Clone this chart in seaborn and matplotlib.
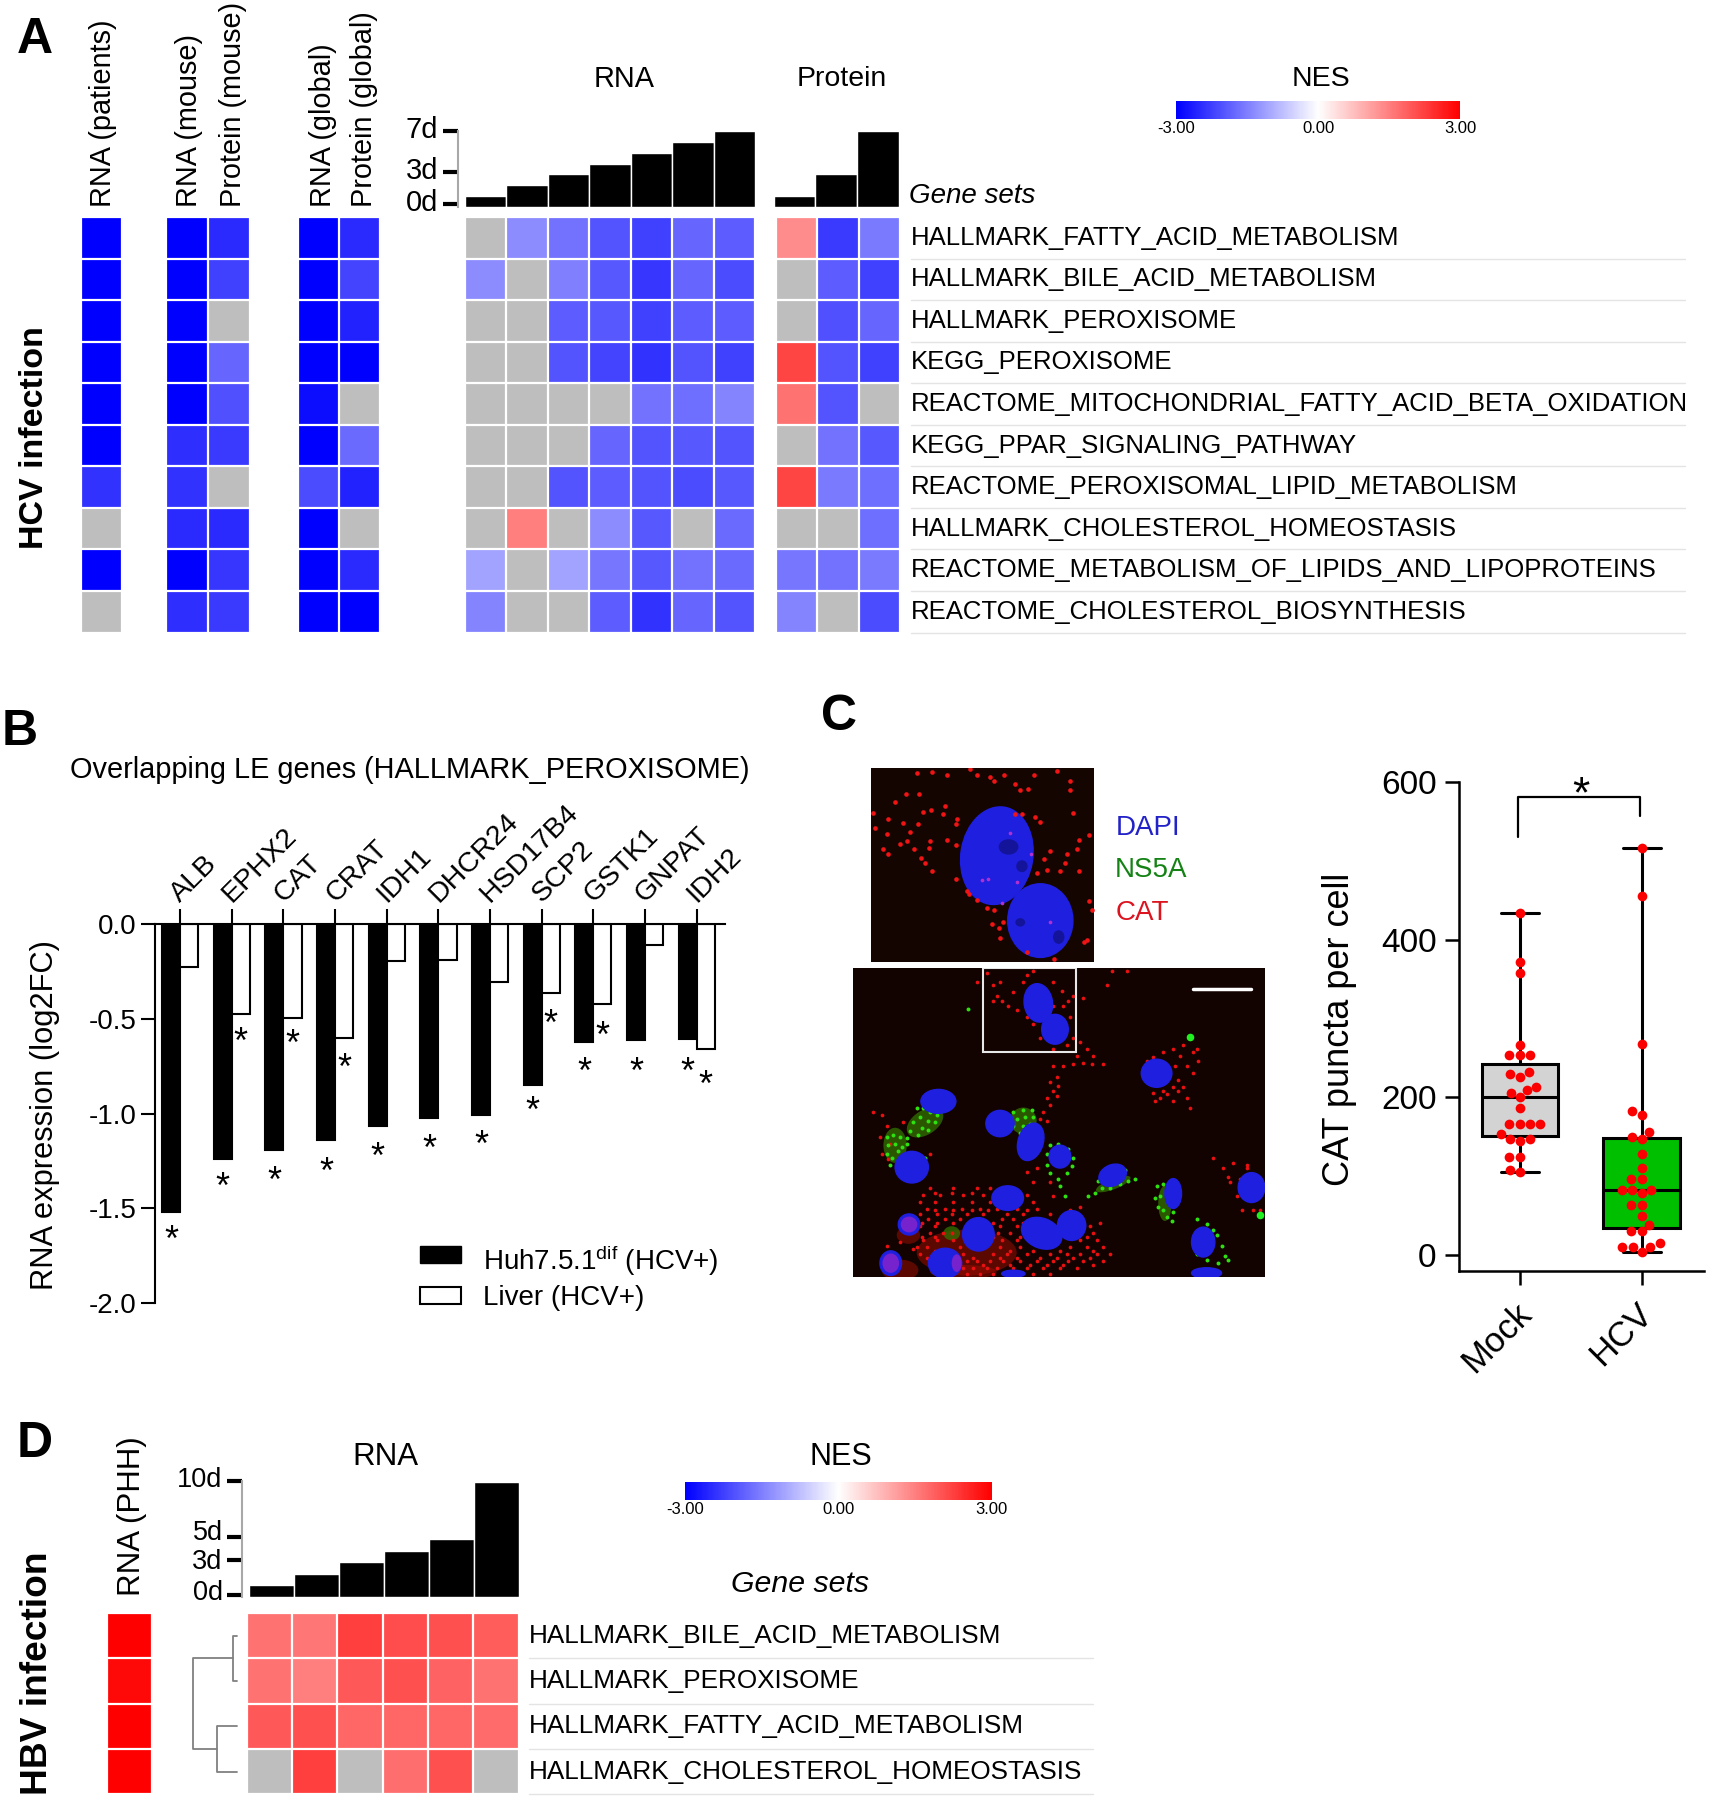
import numpy as np
import pandas as pd
import matplotlib
matplotlib.use('Agg')
import matplotlib.pyplot as plt
import seaborn as sns
from matplotlib.lines import Line2D
from matplotlib.patches import Ellipse, Rectangle
from matplotlib.transforms import ScaledTranslation

n = np.nan

# panel A
gene_sets_a = ['HALLMARK_FATTY_ACID_METABOLISM', 'HALLMARK_BILE_ACID_METABOLISM', 'HALLMARK_PEROXISOME',
               'KEGG_PEROXISOME', 'REACTOME_MITOCHONDRIAL_FATTY_ACID_BETA_OXIDATION', 'KEGG_PPAR_SIGNALING_PATHWAY',
               'REACTOME_PEROXISOMAL_LIPID_METABOLISM', 'HALLMARK_CHOLESTEROL_HOMEOSTASIS',
               'REACTOME_METABOLISM_OF_LIPIDS_AND_LIPOPROTEINS', 'REACTOME_CHOLESTEROL_BIOSYNTHESIS']
patients = [[-3], [-3], [-3], [-3], [-3], [-3], [-2.4], [n], [-3], [n]]
mouse = [[-3, -2.5], [-3, -2.25], [-3, n], [-3, -1.8], [-3, -2.05],
         [-2.45, -2.3], [-2.4, n], [-2.5, -2.5], [-3, -2.35], [-2.45, -2.3]]
global_ = [[-3, -2.5], [-3, -2.2], [-3, -2.6], [-3, -3], [-2.85, n],
           [-3, -1.75], [-2.1, -2.6], [-3, n], [-3, -2.5], [-3, -3]]
rna_a = [[n, -1.35, -1.65, -2.0, -2.25, -1.8, -1.9],
         [-1.35, n, -1.5, -1.95, -2.35, -1.8, -2.1],
         [n, n, -1.9, -1.95, -2.25, -1.9, -1.9],
         [n, n, -2.0, -2.2, -2.4, -2.0, -2.25],
         [n, n, n, n, -1.65, -1.7, -1.45],
         [n, n, n, -1.8, -2.0, -1.95, -2.0],
         [n, n, -2.0, -1.9, -2.0, -2.1, -1.95],
         [n, 1.5, n, -1.35, -1.95, n, -1.75],
         [-1.1, n, -1.1, -1.6, -1.95, -1.65, -1.75],
         [-1.45, n, n, -1.9, -2.4, -1.8, -2.0]]
protein_a = [[1.35, -2.3, -1.55], [n, -1.9, -2.25], [n, -2.05, -1.8], [2.2, -2.0, -2.25], [1.65, -2.0, n],
             [n, -1.65, -1.95], [2.2, -1.55, -1.7], [n, n, -1.7], [-1.6, -1.65, -1.55], [-1.45, n, -2.1]]
days_rna_a = [1, 2, 3, 4, 5, 6, 7]
days_protein_a = [1, 3, 7]

# panel B
genes = ['ALB', 'EPHX2', 'CAT', 'CRAT', 'IDH1', 'DHCR24', 'HSD17B4', 'SCP2', 'GSTK1', 'GNPAT', 'IDH2']
huh = [-1.522, -1.24, -1.19, -1.14, -1.065, -1.026, -1.01, -0.85, -0.62, -0.61, -0.606]
liver = [-0.226, -0.473, -0.497, -0.60, -0.194, -0.19, -0.305, -0.366, -0.424, -0.108, -0.658]
star_huh = [-1.634, -1.355, -1.323, -1.273, -1.194, -1.155, -1.131, -0.953, -0.748, -0.748, -0.748]
star_liver = {1: -0.587, 2: -0.602, 3: -0.727, 7: -0.495, 8: -0.555, 10: -0.817}

# panel C
mock = [105, 108, 124, 124, 145, 147, 147, 154, 166, 166, 166, 166, 186, 200, 206, 209, 213,
        226, 230, 232, 253, 253, 253, 266, 357, 372, 433]
hcv = [4, 10, 10, 10, 15, 30, 30, 38, 49, 63, 63, 78, 82, 82, 82, 97, 97, 110, 128, 147, 150,
       156, 178, 183, 268, 455, 516]

# micrograph, hand placed in crop pixels: x, y, w, h, angle
nuclei_top = [(530, 330, 215, 280, 10), (660, 515, 195, 210, 0)]
holes_top = [(565, 305, 55, 40, 0), (605, 360, 30, 30, 0), (715, 562, 30, 35, 0), (600, 520, 25, 20, 0)]
puncta_top = [(205, 225), (200, 268), (165, 252), (190, 312), (205, 325), (258, 155), (298, 155), (225, 177), (160, 208),
              (250, 237), (295, 240), (270, 263), (240, 297), (260, 288), (283, 312), (330, 287), (328, 307), (303, 338),
              (315, 350), (335, 373), (380, 285), (408, 240), (410, 225), (375, 188), (368, 210), (308, 205), (332, 200),
              (408, 300), (408, 397), (380, 100), (335, 92), (290, 95), (450, 82), (470, 100), (510, 105), (520, 118),
              (550, 100), (585, 125), (600, 143), (622, 140), (640, 100), (710, 90), (748, 118), (748, 143), (758, 207),
              (805, 272), (770, 310), (740, 325), (690, 318), (670, 340), (735, 352), (720, 375), (650, 380), (775, 375),
              (660, 235), (645, 220), (605, 210), (585, 210), (440, 430), (470, 455), (448, 440), (500, 480), (520, 485),
              (515, 525), (535, 535), (548, 520), (540, 565), (620, 605), (800, 570), (790, 575), (805, 460), (815, 485),
              (700, 625), (775, 285), (680, 370)]
magenta_top = [(505, 397), (485, 400), (590, 405), (570, 265), (632, 325), (545, 465), (688, 520)]
nuclei_low = [(655, 750, 85, 110, -10), (705, 825, 80, 85, 0), (1010, 950, 92, 80, 0), (355, 1030, 105, 68, 0),
              (540, 1093, 85, 75, 0), (632, 1145, 75, 110, 20), (720, 1187, 65, 65, 0), (275, 1217, 100, 90, 0),
              (878, 1240, 85, 60, -20), (1060, 1292, 50, 85, 0), (1295, 1275, 80, 85, 0), (563, 1305, 95, 70, 0),
              (665, 1405, 125, 85, 20), (755, 1383, 85, 85, 0), (475, 1408, 95, 95, 0), (267, 1380, 65, 60, 0),
              (1150, 1430, 70, 85, 0), (375, 1490, 100, 85, 0), (212, 1490, 65, 70, 0), (580, 1520, 70, 20, 0),
              (1160, 1518, 90, 30, 0)]
pink_low = [(267, 1380, 50, 45), (212, 1490, 50, 55), (410, 1490, 30, 50)]
green_haze = [(315, 1090, 120, 70, -30), (610, 1085, 80, 75, 0), (225, 1155, 70, 100, 0), (1035, 1320, 40, 100, 0),
              (880, 1265, 110, 30, -20), (395, 1405, 50, 40, 0)]
red_haze = [(440, 1460, 300, 130, 0), (430, 1515, 200, 40, 0), (265, 1410, 70, 50, 0), (240, 1510, 110, 60, 0)]
red_low = [(520, 700), (540, 690), (530, 730), (545, 745), (565, 760), (590, 770), (520, 745), (580, 720), (610, 690),
           (620, 670), (640, 660), (700, 690), (725, 715), (745, 745), (730, 760), (700, 760), (760, 730), (620, 790),
           (640, 810), (660, 850), (760, 850), (740, 870), (700, 880), (750, 790), (725, 850), (470, 690), (500, 665),
           (860, 700), (875, 660), (920, 660), (790, 735), (780, 860), (800, 880), (770, 900), (820, 900), (790, 920),
           (815, 925), (850, 925), (760, 925), (730, 930), (700, 930), (710, 960), (690, 975), (715, 985), (700, 1000),
           (680, 1020), (710, 1015), (690, 1040), (670, 1060), (680, 1085), (660, 1080), (1090, 870), (1060, 880),
           (1030, 890), (1080, 900), (1120, 890), (1135, 915), (1100, 930), (1120, 950), (1000, 905), (980, 915),
           (1065, 930), (1075, 970), (1060, 990), (1075, 1000), (1000, 1005), (1020, 1020), (1040, 1010), (1060, 1030),
           (1100, 1020), (1110, 1050), (1005, 1030), (1090, 990), (1130, 880), (1030, 1000), (1180, 1190), (1210, 1220),
           (1240, 1205), (1280, 1210), (1230, 1260), (1260, 1250), (1250, 1300), (1265, 1340), (1320, 1340), (1300, 1340),
           (1225, 1245), (1280, 1220), (620, 1230), (650, 1220), (640, 1260), (690, 1260), (700, 1300), (750, 1340),
           (780, 1330), (160, 1060), (185, 1070), (200, 1100), (180, 1130), (210, 1150), (250, 1090), (185, 1180),
           (205, 1195), (330, 1180), (200, 1440), (240, 1430), (280, 1450)]
red_rows = {1275: [330, 400, 470, 510], 1295: [310, 360, 430, 490, 620], 1315: [300, 345, 400, 455, 510, 640],
            1335: [320, 375, 425, 480, 530, 590, 650], 1350: [300, 350, 395, 440, 490, 560, 610, 690],
            1365: [325, 375, 420, 545, 580, 720], 1385: [300, 345, 540, 590, 810], 1405: [330, 370, 395, 535, 570, 820],
            1425: [310, 350, 400, 545, 590, 780, 830], 1445: [290, 320, 420, 540, 600, 750, 800, 850],
            1465: [300, 430, 520, 560, 620, 690, 740, 780, 830, 870], 1485: [440, 470, 510, 550, 600, 650, 700, 745, 790, 850],
            1505: [430, 460, 500, 530, 580, 620, 670, 720, 770], 1520: [440, 480, 520, 640, 690],
            1290: [345, 395, 455], 1340: [345, 400, 455, 505, 620], 1375: [305, 350, 400, 520, 610, 840],
            1415: [305, 345, 520, 600, 800], 1455: [345, 395, 570, 640, 720, 820], 1475: [320, 460, 540, 590, 660, 710, 760, 810],
            1495: [420, 490, 570, 630, 680, 730, 820]}
green_low = [(290, 1050), (310, 1050), (330, 1060), (350, 1070), (300, 1075), (325, 1085), (345, 1090), (280, 1090),
             (305, 1105), (325, 1110), (270, 1115), (295, 1125), (260, 1135), (580, 1060), (610, 1055), (635, 1055),
             (590, 1080), (615, 1075), (640, 1075), (580, 1100), (610, 1100), (630, 1095), (600, 1120), (565, 1070),
             (200, 1130), (220, 1125), (240, 1130), (205, 1155), (225, 1150), (245, 1160), (200, 1180), (215, 1190),
             (235, 1170), (260, 1150), (210, 1210), (315, 1190), (690, 1155), (715, 1150), (745, 1165), (760, 1190),
             (755, 1215), (740, 1235), (715, 1250), (690, 1235), (680, 1210), (680, 1180), (720, 1270), (735, 1300),
             (805, 1300), (825, 1290), (845, 1275), (870, 1275), (900, 1265), (925, 1255), (945, 1250), (835, 1255),
             (915, 1225), (860, 1220), (1010, 1270), (1020, 1300), (1005, 1305), (1030, 1340), (1040, 1360), (1055, 1370),
             (1030, 1265), (1015, 1330), (1060, 1345), (1130, 1365), (1160, 1380), (1190, 1410), (1205, 1440), (1215, 1470),
             (1195, 1490), (1160, 1480), (1225, 1480), (1120, 1430), (1180, 1395), (1130, 1465), (445, 768)]
green_blobs = [(1110, 847), (1320, 1352)]

# panel D
gene_sets_d = ['HALLMARK_BILE_ACID_METABOLISM', 'HALLMARK_PEROXISOME', 'HALLMARK_FATTY_ACID_METABOLISM',
               'HALLMARK_CHOLESTEROL_HOMEOSTASIS']
phh = [[3], [2.9], [3], [3]]
rna_d = [[1.65, 1.6, 2.25, 2.1, 2.05, 1.9],
         [1.65, 1.5, 1.95, 2.05, 1.85, 1.65],
         [1.95, 2.05, 1.8, 1.8, 1.8, 1.75],
         [n, 2.25, n, 1.7, 2.05, n]]
days_d = [1, 2, 3, 4, 5, 10]
merge_top = 0.1
merge_low = 0.45
merge_root = 1.0

sns.set_style('white')
plt.rcParams['font.family'] = ['Liberation Sans', 'DejaVu Sans']
plt.rcParams['mathtext.default'] = 'regular'
plt.rcParams.update({'text.color': 'black', 'xtick.color': 'black', 'ytick.color': 'black', 'axes.labelcolor': 'black'})

W, H = 1489, 1568  # layout numbers below are in these pixels
fig = plt.figure(figsize=(17.09, 18), dpi=100)


def box(x0, y0, x1, y1):
    return fig.add_axes([x0 / W, 1 - y1 / H, (x1 - x0) / W, (y1 - y0) / H])


def label(x, y, s, size=20, ha='center', va='center', **kw):
    fig.text(x / W, 1 - y / H, s, fontsize=size, ha=ha, va=va, **kw)


def shift(labels, dx, dy):
    # nudge tick labels by points
    for t in labels:
        t.set_transform(t.get_transform() + ScaledTranslation(dx / 72, dy / 72, fig.dpi_scale_trans))


def heat(data, x0, y0, x1, y1):
    ax = box(x0, y0, x1, y1)
    sns.heatmap(pd.DataFrame(data), cmap='bwr', vmin=-3, vmax=3, cbar=False, xticklabels=False,
                yticklabels=False, ax=ax)
    ax.set_facecolor('#bebebe')
    rows, cols = np.shape(data)
    ax.hlines(np.arange(rows + 1), 0, cols, color='white', lw=1.6, clip_on=False)
    ax.vlines(np.arange(cols + 1), 0, rows, color='white', lw=1.6, clip_on=False)
    return ax


def day_bars(days, x0, y0, x1, y1, ticks=None, ticklabels=None, top=7.05, size=21):
    ax = box(x0, y0, x1, y1)
    sns.barplot(x=list(range(len(days))), y=days, color='black', width=1, saturation=1, ax=ax)
    ax.set_xlim(-0.5, len(days) - 0.5)
    ax.set_ylim(0, top)
    ax.set_xticks([])
    sns.despine(ax=ax, bottom=True, left=ticks is None)
    if ticks is None:
        ax.set_yticks([])
    else:
        ax.set_yticks(ticks, ticklabels)
        ax.spines['left'].set_position(('outward', 5))
        ax.spines['left'].set_color('#a8a8a8')
        ax.spines['left'].set_linewidth(1.5)
        ax.tick_params(axis='y', left=True, length=11, width=3, color='black', labelsize=size, pad=3)
        shift(ax.get_yticklabels(), 0, 3)
    ax.patch.set_alpha(0)
    return ax


def nes_bar(x0, y0, x1, y1, mesh):
    cax = box(x0, y0, x1, y1)
    cb = fig.colorbar(mesh, cax=cax, orientation='horizontal', ticks=[-3, 0, 3])
    cb.ax.set_xticklabels(['-3.00', '0.00', '3.00'], fontsize=12)
    cb.ax.tick_params(length=0, pad=1)
    cb.outline.set_visible(False)


def rows_text(labels, x0, x1, top, step, size):
    for i, s in enumerate(labels):
        label(x0, top + step * (i + 0.5), s, size=size, ha='left')
        y = 1 - (top + step * (i + 1)) / H
        fig.add_artist(Line2D([x0 / W, x1 / W], [y, y], color='#e4e4e4', lw=1))


# ---- panel A
top_a, bot_a = 189, 551
heat(patients, 71, top_a, 106, bot_a)
heat(mouse, 145, top_a, 218, bot_a)
heat(global_, 260, top_a, 331, bot_a)
hm = heat(rna_a, 405, top_a, 658, bot_a)
heat(protein_a, 676, top_a, 784, bot_a)
day_bars(days_rna_a, 405, 114, 658, 180, [0.2, 3.2, 7.05], ['0d', '3d', '7d'])
day_bars(days_protein_a, 674, 114, 783, 180)
rows_text(gene_sets_a, 794, 1468, top_a, (bot_a - top_a) / 10, 18.5)
nes_bar(1025, 88, 1272, 104, hm.collections[0])

for x, s in [(90, 'RNA (patients)'), (165, 'RNA (mouse)'), (203, 'Protein (mouse)'),
             (281, 'RNA (global)'), (317, 'Protein (global)')]:
    label(x, 180, s, size=20.8, rotation=90, va='bottom')
label(544, 69, 'RNA', size=20.8)
label(733, 69, 'Protein', size=20.5)
label(1151, 69, 'NES', size=20.5)
label(847, 171, 'Gene sets', style='italic')
label(30, 381, 'HCV infection', size=24.5, rotation=90, fontweight='bold')
label(30, 35, 'A', size=36, fontweight='bold')

# ---- panel B
label(17, 638, 'B', size=36, fontweight='bold')
label(357, 671, 'Overlapping LE genes (HALLMARK_PEROXISOME)', size=20.8)
ax_b = box(135, 805, 632, 1135)
bars = pd.DataFrame({'gene': genes * 2, 'log2fc': huh + liver,
                     'group': ['Huh'] * len(genes) + ['Liver'] * len(genes)})
sns.barplot(data=bars, x='gene', y='log2fc', hue='group', palette={'Huh': 'black', 'Liver': 'white'},
            width=0.7, gap=0, saturation=1, edgecolor='black', linewidth=1.5, legend=False, ax=ax_b)
ax_b.set_xlim(-0.489, 10.556)
ax_b.set_ylim(-2, 0)
ax_b.set_yticks([0, -0.5, -1, -1.5, -2], ['0.0', '-0.5', '-1.0', '-1.5', '-2.0'])
ax_b.xaxis.tick_top()
ax_b.set_xticks(range(len(genes)), genes, rotation=45, ha='left', rotation_mode='anchor')
ax_b.tick_params(axis='x', top=True, length=11, width=1.5, labelsize=20.5, pad=1)
ax_b.tick_params(axis='y', left=True, length=10, width=1.5, labelsize=20, pad=3)
shift(ax_b.get_xticklabels(), 3, 0)
ax_b.set_xlabel('')
ax_b.set_ylabel('')
for side in ['right', 'bottom']:
    ax_b.spines[side].set_visible(False)
for side in ['left', 'top']:
    ax_b.spines[side].set_color('black')
    ax_b.spines[side].set_linewidth(1.5)
for i, y in enumerate(star_huh):
    ax_b.text(i - 0.175, y - 0.02, '*', fontsize=26, ha='center', va='center_baseline')
for i, y in star_liver.items():
    ax_b.text(i + 0.175, y - 0.02, '*', fontsize=26, ha='center', va='center_baseline')
label(39, 971, 'RNA expression (log2FC)', size=22.2, rotation=90)
fig.add_artist(Rectangle((366 / W, 1 - 1100 / H), 36 / W, 15 / H, facecolor='black', edgecolor='black', transform=fig.transFigure))
fig.add_artist(Rectangle((366 / W, 1 - 1136 / H), 36 / W, 15 / H, facecolor='white', edgecolor='black', lw=1.5, transform=fig.transFigure))
label(421, 1098, 'Huh7.5.1$^{dif}$ (HCV+)', ha='left')
label(421, 1131, 'Liver (HCV+)', ha='left')

# ---- panel C micrographs
label(731, 625, 'C', size=36, fontweight='bold')
ax_t = box(759, 669, 953, 838)
ax_t.set_xlim(154, 820)
ax_t.set_ylim(633, 80)
ax_t.set_facecolor('#140500')
for x, y, w, h, a in nuclei_top:
    ax_t.add_patch(Ellipse((x, y), w, h, angle=a, color='#1f1fe0', zorder=3))
for x, y, w, h, a in holes_top:
    ax_t.add_patch(Ellipse((x, y), w, h, angle=a, color='#14149a', zorder=3))
sns.scatterplot(x=[p[0] for p in puncta_top], y=[p[1] for p in puncta_top], color='#f01414', s=11, linewidth=0, zorder=4, ax=ax_t)
sns.scatterplot(x=[p[0] for p in magenta_top], y=[p[1] for p in magenta_top], color='#b030d0', s=7, linewidth=0, zorder=4, ax=ax_t)
ax_t.set_xticks([])
ax_t.set_yticks([])

ax_l = box(743, 843, 1102, 1112)
ax_l.set_xlim(98, 1335)
ax_l.set_ylim(1528, 650)
ax_l.set_facecolor('#120300')
for x, y, w, h, a in red_haze:
    ax_l.add_patch(Ellipse((x, y), w, h, angle=a, color=(0.6, 0.05, 0, 0.55), lw=0, zorder=1))
for x, y, w, h, a in green_haze:
    ax_l.add_patch(Ellipse((x, y), w, h, angle=a, color=(0.2, 0.45, 0, 0.75), lw=0, zorder=1))
red_x = [p[0] for p in red_low] + [x for y, xs in red_rows.items() for x in xs]
red_y = [p[1] for p in red_low] + [y for y, xs in red_rows.items() for x in xs]
sns.scatterplot(x=red_x, y=red_y, color='#e81010', s=7, linewidth=0, zorder=2, ax=ax_l)
sns.scatterplot(x=[p[0] for p in green_low], y=[p[1] for p in green_low], color='#30e010', s=8, linewidth=0, zorder=2, ax=ax_l)
sns.scatterplot(x=[p[0] for p in green_blobs], y=[p[1] for p in green_blobs], color='#20f020', s=30, linewidth=0, zorder=2, ax=ax_l)
for x, y, w, h, a in nuclei_low:
    ax_l.add_patch(Ellipse((x, y), w, h, angle=a, color='#1f1fe0', zorder=3))
for x, y, w, h in pink_low:
    ax_l.add_patch(Ellipse((x, y), w, h, color=(0.75, 0.15, 0.75, 0.55), lw=0, zorder=4))
ax_l.add_patch(Rectangle((489, 650), 279, 239, fill=False, edgecolor='#e8e8e8', lw=1.5, zorder=5))
ax_l.plot([1120, 1293], [711, 711], color='white', lw=2.5, zorder=5)
ax_l.set_xlim(98, 1335)
ax_l.set_ylim(1528, 650)
ax_l.set_xticks([])
ax_l.set_yticks([])
for ax in [ax_t, ax_l]:
    for s in ax.spines.values():
        s.set_visible(False)
label(972, 721, 'DAPI', color='#2222c8', ha='left')
label(971, 758, 'NS5A', color='#148214', ha='left')
label(972, 795, 'CAT', color='#dc1420', ha='left')

# ---- panel C boxes
ax_c = box(1271, 681, 1485, 1107)
puncta = pd.DataFrame({'group': ['Mock'] * len(mock) + ['HCV'] * len(hcv), 'count': mock + hcv})
sns.boxplot(data=puncta, x='group', y='count', hue='group', palette={'Mock': '#d3d3d3', 'HCV': '#00be00'},
            width=0.625, whis=(0, 100), fliersize=0, linecolor='black', linewidth=2.2, saturation=1, legend=False, ax=ax_c)
sns.swarmplot(data=puncta, x='group', y='count', color='#fa0000', size=7, zorder=5, ax=ax_c)
ax_c.set_xlim(-0.5, 1.516)
ax_c.set_ylim(-20, 600)
ax_c.set_yticks([0, 200, 400, 600])
ax_c.set_xticks([0, 1], ['Mock', 'HCV'], rotation=45, ha='right', rotation_mode='anchor')
ax_c.tick_params(axis='y', left=True, length=10, width=1.8, labelsize=24, pad=6)
ax_c.tick_params(axis='x', bottom=True, length=10, width=1.8, labelsize=25, pad=9)
shift(ax_c.get_xticklabels(), -4, 0)
ax_c.set_xlabel('')
ax_c.set_ylabel('')
sns.despine(ax=ax_c)
for side in ['left', 'bottom']:
    ax_c.spines[side].set_color('black')
    ax_c.spines[side].set_linewidth(1.8)
ax_c.plot([-0.01, -0.01, 0.99, 0.99], [530, 581, 581, 557], color='black', lw=1.6, clip_on=False)
ax_c.text(0.5, 588, '*', fontsize=32, ha='center', va='center_baseline')
label(1167, 897, 'CAT puncta per cell', size=26, rotation=90)

# ---- panel D
label(30, 1258, 'D', size=36, fontweight='bold')
top_d, bot_d = 1405, 1563
hd = heat(rna_d, 215, top_d, 452, bot_d)
heat(phh, 93, top_d, 132, bot_d)
ax_days = day_bars(days_d, 217, 1290, 452, 1391, [0.2, 3.16, 5.2, 10.09], ['0d', '3d', '5d', '10d'], top=10.09, size=19.5)
tick_labs = ax_days.get_yticklabels()
shift([tick_labs[2]], 0, 2)
shift([tick_labs[1]], 0, -2)
rows_text(gene_sets_d, 461, 952, top_d, (bot_d - top_d) / 4, 18.8)
nes_bar(597, 1291, 864, 1307, hd.collections[0])

ax_den = box(168, top_d, 206.5, bot_d)
ax_den.set_xlim(merge_root, 0)
ax_den.set_ylim(4, 0)
ax_den.axis('off')
for h, (a, b) in [(merge_top, (0.5, 1.5)), (merge_low, (2.5, 3.5))]:
    ax_den.plot([0, h, h, 0], [a, a, b, b], color='#808080', lw=1.3, clip_on=False)
ax_den.plot([merge_top, merge_root, merge_root, merge_low], [1, 1, 3, 3], color='#808080', lw=1.3, clip_on=False)

label(115, 1390, 'RNA (PHH)', size=22.5, rotation=90, va='bottom')
label(336, 1269, 'RNA', size=22.5)
label(733, 1269, 'NES', size=22)
label(697, 1380, 'Gene sets', size=21.8, style='italic')
label(33, 1458, 'HBV infection', size=26.7, rotation=90, fontweight='bold')

fig.savefig('out.png', dpi=100)
